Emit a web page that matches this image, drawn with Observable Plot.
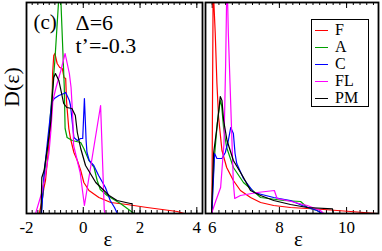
<!DOCTYPE html>
<html><head><meta charset="utf-8">
<script src="https://cdn.jsdelivr.net/npm/d3@7"></script>
<script src="https://cdn.jsdelivr.net/npm/@observablehq/plot@0.6"></script>
<style>
body{margin:0;background:#fff;}
#chart{position:relative;width:382px;height:251px;overflow:hidden;font-family:"Liberation Serif",serif;background:#fff;}
#chart svg{position:absolute;top:0;font-family:"Liberation Serif",serif;}
#chart svg text{font-family:"Liberation Serif",serif;}
#chart svg g[aria-label="annot"] text{letter-spacing:0.8px;}
</style></head><body><div id="chart"></div>
<script>
// ---- data ----
const seriesNames = ["F", "A", "C", "FL", "PM"];
const seriesColors = ["#ff0000", "#00a000", "#0000ff", "#ff00ff", "#000000"];

const leftTicks = [-2, 0, 2, 4];
const rightTicks = [6, 8, 10];
const leftDomain = [-2, 4.2];
const rightDomain = [5.8, 10.95];
const yDomain = [0, 2.11];

const leftF = [[-1.55,0],[-1.45,0.13],[-1.39,0.25],[-1.33,0.33],[-1.27,0.51],[-1.15,0.88],[-1.10,1.08],[-1.08,1.40],[-1.04,1.58],[-1.0,1.60],[-0.92,1.50],[-0.83,1.46],[-0.74,1.45],[-0.68,1.36],[-0.62,1.35],[-0.59,1.13],[-0.57,1.05],[-0.51,0.85],[-0.45,0.75],[-0.33,0.61],[-0.21,0.53],[-0.09,0.43],[0.02,0.31],[0.20,0.23],[0.55,0.16],[0.97,0.11],[1.54,0.09],[2.25,0.06],[3.31,0.02],[3.56,0.0]];
const leftA = [[-1.48,0],[-1.42,0.22],[-1.33,0.5],[-1.21,0.78],[-1.16,0.98],[-1.0,1.53],[-0.82,2.35],[-0.67,1.27],[-0.64,0.85],[-0.57,0.76],[-0.39,0.73],[-0.09,0.71],[0.02,0.65],[0.20,0.53],[0.38,0.46],[0.49,0.33],[0.6,0.24],[0.84,0.18],[1.31,0.10],[1.79,0.0]];
const leftC = [[-1.47,0],[-1.38,0.4],[-1.25,0.75],[-1.11,1.11],[-1.02,1.15],[-0.86,1.18],[-0.68,1.20],[-0.62,1.21],[-0.49,1.13],[-0.45,1.08],[-0.33,0.76],[-0.21,0.73],[-0.09,0.75],[-0.02,0.75],[0.04,1.15],[0.10,0.73],[0.13,0.61],[0.21,0.53],[0.37,0.48],[0.54,0.38],[0.78,0.26],[0.95,0.13],[1.10,0.06],[1.20,0]];
const leftFL = [[-1.68,0],[-1.46,0.21],[-1.34,0.38],[-1.21,0.6],[-1.14,0.83],[-1.07,1.13],[-0.96,1.26],[-0.79,1.43],[-0.64,1.60],[-0.49,1.40],[-0.43,1.26],[-0.37,0.96],[-0.34,0.68],[-0.11,0.41],[0.04,0.08],[0.61,1.08],[0.74,0.03],[0.77,0]];
const leftPM = [[-1.49,0],[-1.46,0.36],[-1.38,0.43],[-1.26,0.66],[-1.14,0.93],[-1.10,1.13],[-1.04,1.36],[-0.98,1.40],[-0.86,1.33],[-0.80,1.25],[-0.69,1.10],[-0.58,1.06],[-0.40,1.05],[-0.28,0.98],[-0.21,0.81],[-0.09,0.65],[0.08,0.48],[0.44,0.31],[0.91,0.18],[1.19,0.13],[1.66,0.10],[1.72,0.10],[1.72,0]];

const rightF = [[5.99,0],[6.03,2.4],[6.05,2.1],[6.09,1.80],[6.14,1.30],[6.19,0.96],[6.29,0.63],[6.43,0.46],[6.63,0.33],[6.84,0.23],[7.14,0.16],[7.44,0.11],[7.83,0.08],[8.33,0.06],[9.32,0.04],[10.12,0.02],[10.91,0.0]];
const rightA = [[5.98,0],[6.05,0.5],[6.15,0.9],[6.24,1.13],[6.28,1.08],[6.34,0.85],[6.43,0.66],[6.63,0.46],[6.93,0.31],[7.44,0.16],[8.13,0.13],[8.63,0.12],[8.83,0.06],[9.12,0.03],[9.27,0]];
const rightC = [[5.99,0],[6.07,0.60],[6.14,0.55],[6.29,0.55],[6.39,0.61],[6.48,0.73],[6.55,0.86],[6.63,0.80],[6.68,0.60],[6.73,0.50],[6.93,0.35],[7.24,0.21],[7.83,0.16],[8.33,0.13],[8.68,0.08],[9.12,0.03],[9.27,0]];
const rightFL = [[5.98,0],[6.1,0.12],[6.25,0.26],[6.35,0.7],[6.40,1.5],[6.44,2.4],[6.48,1.80],[6.53,1.30],[6.58,0.80],[6.63,0.30],[6.67,0.15],[6.84,0.18],[7.34,0.21],[7.85,0.23],[7.93,0.15],[8.23,0.13],[8.83,0.08],[9.22,0.03],[9.32,0]];
const rightPM = [[5.98,0],[6.04,0.6],[6.14,0.86],[6.24,1.17],[6.29,1.13],[6.34,0.93],[6.44,0.73],[6.63,0.53],[6.93,0.36],[7.14,0.23],[7.44,0.18],[7.83,0.13],[8.33,0.09],[8.83,0.06],[9.58,0.047],[9.6,0]];

const leftSeries = [leftF, leftA, leftC, leftFL, leftPM];
const rightSeries = [rightF, rightA, rightC, rightFL, rightPM];

// ---- drawing ----
const chart = document.getElementById("chart");
const font = "Liberation Serif, serif";

function panel({domain, series, majors, minorStart, width, left, mLeft, mRight, extra, labelDx}) {
  const minors = d3.range(minorStart, domain[1] + 1e-9, 0.2);
  const yTop = yDomain[1];
  const marks = [
    Plot.ruleX(minors, {x: d => d, y1: 0, y2: 0.03, stroke: "black", strokeWidth: 1}),
    Plot.ruleX(majors, {x: d => d, y1: 0, y2: 0.06, stroke: "black", strokeWidth: 1}),
    Plot.ruleX(minors, {x: d => d, y1: yTop, y2: yTop - 0.03, stroke: "black", strokeWidth: 1}),
    Plot.ruleX(majors, {x: d => d, y1: yTop, y2: yTop - 0.06, stroke: "black", strokeWidth: 1}),
    ...series.map((s, i) => Plot.line(s, {x: d => d[0], y: d => d[1], stroke: seriesColors[i], strokeWidth: 1.2, clip: true})),
    Plot.frame({stroke: "black", strokeWidth: 1.8}),
    Plot.axisX(majors, {tickSize: 0, tickPadding: 7, tickFormat: d => String(d), fontSize: 17, fontFamily: font, label: null}),
    Plot.text(["ε"], {frameAnchor: "bottom", lineAnchor: "middle", dy: 26, dx: labelDx, fontSize: 21, fontFamily: font}),
    ...extra
  ];
  const svg = Plot.plot({
    width, height: 251,
    marginLeft: mLeft, marginRight: mRight, marginTop: 2, marginBottom: 38,
    x: {domain, axis: null},
    y: {domain: yDomain, axis: null},
    style: {fontFamily: font, fontSize: "16px", color: "black", background: "transparent", overflow: "visible"},
    marks
  });
  svg.style.left = left + "px";
  chart.appendChild(svg);
}

panel({
  domain: leftDomain, series: leftSeries, majors: leftTicks, minorStart: -2,
  width: 203, left: 0, mLeft: 26, mRight: 1, labelDx: -6.5,
  extra: [
    Plot.text(["(c)"], {frameAnchor: "top-left", dx: 7, dy: 12, fontSize: 21, fontFamily: font, ariaLabel: "annot"}),
    Plot.text(["Δ=6"], {frameAnchor: "top-left", dx: 49, dy: 12, fontSize: 22, fontFamily: font, ariaLabel: "annot"}),
    Plot.text(["t’=-0.3"], {frameAnchor: "top-left", dx: 49, dy: 35, fontSize: 22, fontFamily: font, ariaLabel: "annot"}),
    Plot.text(["D(ε)"], {frameAnchor: "left", dx: -15, dy: -1, rotate: -90, fontSize: 22, fontFamily: font})
  ]
});
panel({
  domain: rightDomain, series: rightSeries, majors: rightTicks, minorStart: 5.8,
  width: 179, left: 203, mLeft: 2, mRight: 4, labelDx: 6.5,
  extra: []
});

// legend
const legend = document.createElement("div");
legend.style.cssText = "position:absolute;left:311px;top:19px;width:58px;height:88px;border:1.5px solid #000;background:#fff;box-sizing:border-box;";
seriesNames.forEach((name, i) => {
  const row = document.createElement("div");
  row.style.cssText = `position:absolute;left:0;top:${1.5 + i * 17}px;height:16px;width:56px;`;
  const ln = document.createElement("div");
  ln.style.cssText = `position:absolute;left:3px;top:8px;width:13px;height:0;border-top:1.3px solid ${seriesColors[i]};`;
  const tx = document.createElement("div");
  tx.textContent = name;
  tx.style.cssText = `position:absolute;left:23px;top:0;font-size:16px;line-height:16px;font-family:${font};color:#000;`;
  row.appendChild(ln); row.appendChild(tx);
  legend.appendChild(row);
});
chart.appendChild(legend);
</script></body></html>
